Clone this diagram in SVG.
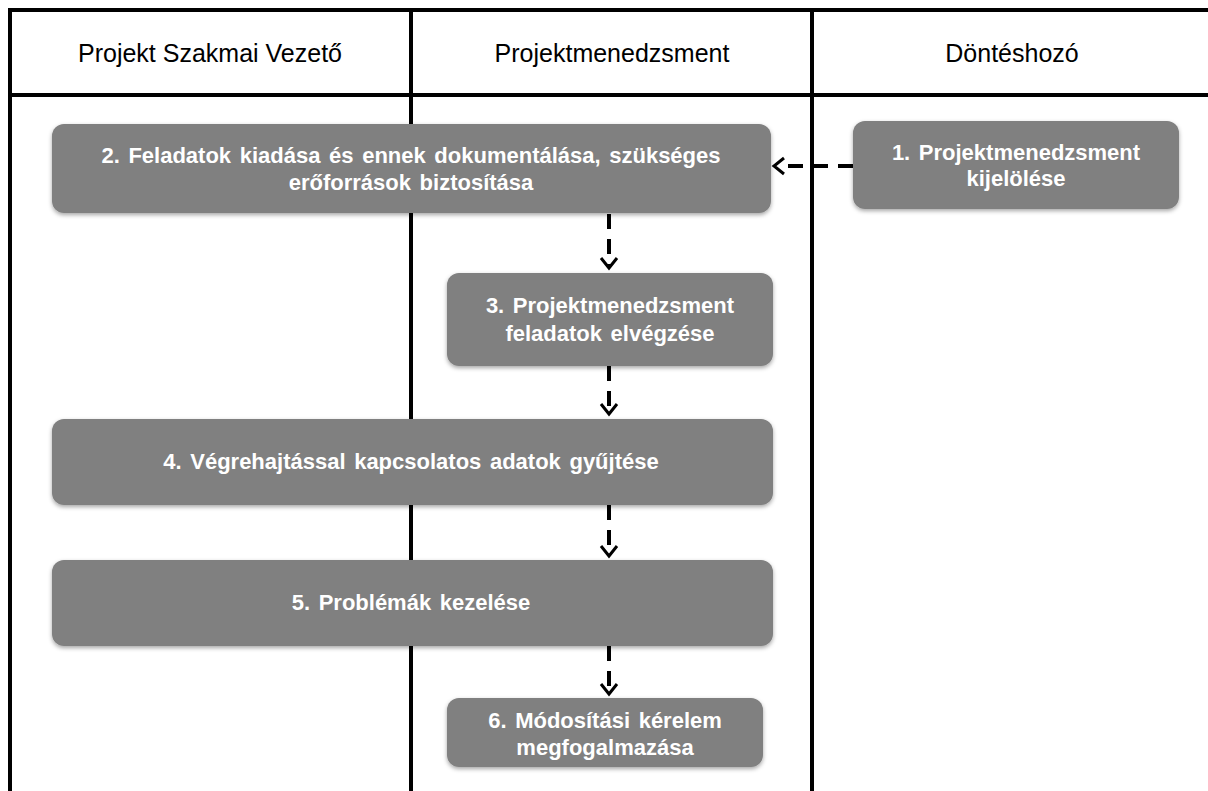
<svg xmlns="http://www.w3.org/2000/svg" width="1208" height="791" viewBox="0 0 1208 791">
  <style>
    .lane { fill: none; stroke: #000; stroke-width: 4; }
    .head { font-family: "Liberation Sans", Arial, sans-serif; font-size: 25px; fill: #000; text-anchor: middle; }
    .box { fill: #808080; filter: url(#shadow); }
    .lbl { font-family: "Liberation Sans", Arial, sans-serif; font-size: 22px; font-weight: bold; fill: #fff; text-anchor: middle; word-spacing: 2.5px; }
    .flow { fill: none; stroke: #000; stroke-width: 4; stroke-dasharray: 15 10; }
    .tip { fill: none; stroke: #000; stroke-width: 3; }
  </style>
  <defs>
    <filter id="shadow" x="-5%" y="-10%" width="110%" height="130%">
      <feDropShadow dx="0" dy="2" stdDeviation="2" flood-color="#000" flood-opacity="0.35"/>
    </filter>
  </defs>
  <rect width="1208" height="791" fill="#fff"/>

  <!-- swimlane grid -->
  <g id="lanes">
    <line class="lane" x1="8" y1="10" x2="1210" y2="10"/>
    <line class="lane" x1="8" y1="95" x2="1210" y2="95"/>
    <line class="lane" x1="10" y1="8" x2="10" y2="791"/>
    <line class="lane" x1="411" y1="8" x2="411" y2="791"/>
    <line class="lane" x1="812" y1="8" x2="812" y2="791"/>
    <text class="head" x="210" y="62">Projekt Szakmai Vezető</text>
    <text class="head" x="612" y="62">Projektmenedzsment</text>
    <text class="head" x="1012" y="62">Döntéshozó</text>
  </g>

  <!-- connectors -->
  <g id="connectors">
    <line class="flow" x1="853" y1="166" x2="778" y2="166"/>
    <polyline class="tip" points="784,158 774,166 784,174"/>
    <line class="flow" x1="609" y1="214" x2="609" y2="266"/>
    <polyline class="tip" points="601,258 609,268 617,258"/>
    <line class="flow" x1="609" y1="366" x2="609" y2="412"/>
    <polyline class="tip" points="601,404 609,414 617,404"/>
    <line class="flow" x1="609" y1="505" x2="609" y2="554"/>
    <polyline class="tip" points="601,546 609,556 617,546"/>
    <line class="flow" x1="609" y1="646" x2="609" y2="692"/>
    <polyline class="tip" points="601,684 609,694 617,684"/>
  </g>

  <g id="node1">
    <rect class="box" x="853" y="121" width="326" height="88" rx="12"/>
    <text class="lbl" x="1016" y="160">1. Projektmenedzsment</text>
    <text class="lbl" x="1016" y="186">kijelölése</text>
  </g>
  <g id="node2">
    <rect class="box" x="52" y="124" width="719" height="89" rx="12"/>
    <text class="lbl" x="411" y="163">2. Feladatok kiadása és ennek dokumentálása, szükséges</text>
    <text class="lbl" x="411" y="190">erőforrások biztosítása</text>
  </g>
  <g id="node3">
    <rect class="box" x="447" y="273" width="326" height="93" rx="12"/>
    <text class="lbl" x="610" y="313">3. Projektmenedzsment</text>
    <text class="lbl" x="610" y="341">feladatok elvégzése</text>
  </g>
  <g id="node4">
    <rect class="box" x="52" y="419" width="721" height="86" rx="12"/>
    <text class="lbl" x="411" y="469">4. Végrehajtással kapcsolatos adatok gyűjtése</text>
  </g>
  <g id="node5">
    <rect class="box" x="52" y="560" width="721" height="86" rx="12"/>
    <text class="lbl" x="411" y="610">5. Problémák kezelése</text>
  </g>
  <g id="node6">
    <rect class="box" x="447" y="698" width="316" height="69" rx="12"/>
    <text class="lbl" x="605" y="728">6. Módosítási kérelem</text>
    <text class="lbl" x="605" y="755">megfogalmazása</text>
  </g>
</svg>
